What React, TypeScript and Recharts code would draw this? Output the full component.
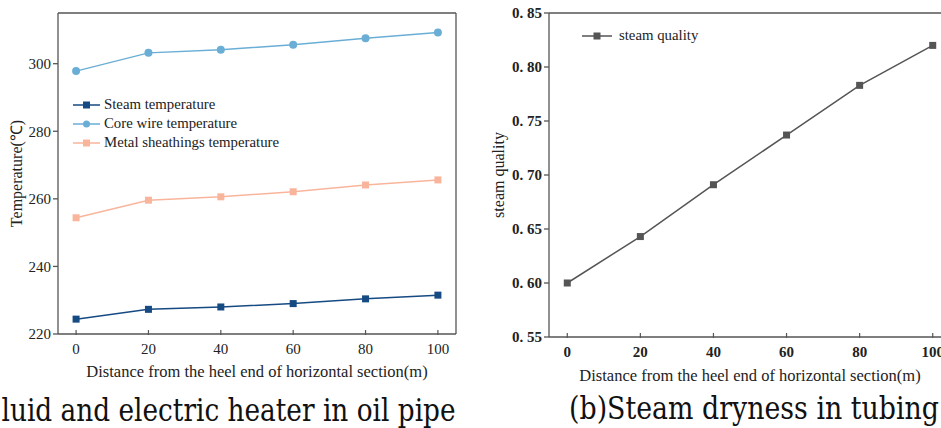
import React from 'react';
import { LineChart, Line, XAxis, YAxis, ReferenceLine, Legend } from 'recharts';

// distance along the horizontal section (m)
const distance = [0, 20, 40, 60, 80, 100];

// (a) temperatures, °C
const steamTemp = [224.4, 227.3, 228.0, 229.0, 230.4, 231.5];
const coreWireTemp = [297.8, 303.2, 304.1, 305.6, 307.5, 309.2];
const sheathTemp = [254.4, 259.6, 260.6, 262.1, 264.1, 265.6];
const tempTicks = [220, 240, 260, 280, 300];

// (b) steam quality
const steamQuality = [0.600, 0.643, 0.691, 0.737, 0.783, 0.820];
const qualityTicks = [0.55, 0.6, 0.65, 0.7, 0.75, 0.8, 0.85];

const xTicks = [0, 20, 40, 60, 80, 100];

const tempData = distance.map((d, i) => ({
  d,
  steam: steamTemp[i],
  core: coreWireTemp[i],
  sheath: sheathTemp[i],
}));
const qualityData = distance.map((d, i) => ({ d, q: steamQuality[i] }));

const SERIF = '"Liberation Serif", "Times New Roman", serif';
const AXIS = '#555';

const tempSeries = [
  { key: 'steam', name: 'Steam temperature', color: '#164a82', shape: 'square' },
  { key: 'core', name: 'Core wire temperature', color: '#6aaed6', shape: 'circle' },
  { key: 'sheath', name: 'Metal sheathings temperature', color: '#f9b59c', shape: 'square' },
];

const Marker = ({ cx, cy, color, shape, size }: any) =>
  shape === 'circle' ? (
    <circle cx={cx} cy={cy} r={size / 2} fill={color} />
  ) : (
    <rect x={cx - size / 2} y={cy - size / 2} width={size} height={size} fill={color} />
  );

const makeDot = (color: string, shape: string, size: number) => (p: any) =>
  <Marker key={p.index} cx={p.cx} cy={p.cy} color={color} shape={shape} size={size} />;

// x ticks point into the plot
const InwardTick = ({ x, y, payload, bold }: any) => (
  <g>
    <line x1={x} x2={x} y1={y - 7} y2={y - 12} stroke={AXIS} strokeWidth={1.2} />
    <text x={x} y={y + 12} textAnchor="middle" fontFamily={SERIF} fontSize={15}
      fontWeight={bold ? 600 : 400} fill="#222">{payload.value}</text>
  </g>
);

const xLabel = (text: string, dy: number) => (props: any) => {
  const { x, y, width } = props.viewBox;
  return (
    <text x={x + width / 2} y={y + dy} textAnchor="middle" fontFamily={SERIF} fontSize={16.5} fill="#222">
      {text}
    </text>
  );
};

const yLabel = (text: string, dx: number) => (props: any) => {
  const { x, y, height } = props.viewBox;
  const cx = x + dx;
  const cy = y + height / 2;
  return (
    <text x={cx} y={cy} transform={`rotate(-90 ${cx} ${cy})`} textAnchor="middle"
      dominantBaseline="middle" fontFamily={SERIF} fontSize={16} fill="#222">
      {text}
    </text>
  );
};

const TempLegend = () => (
  <div style={{ fontFamily: SERIF, fontSize: 14.8, color: '#222', whiteSpace: 'nowrap' }}>
    {tempSeries.map(s => (
      <div key={s.key} style={{ display: 'flex', alignItems: 'center', height: 19 }}>
        <svg width={30} height={12} style={{ marginRight: 2 }}>
          <line x1={1} x2={28} y1={6} y2={6} stroke={s.color} strokeWidth={1.5} />
          <Marker cx={14.5} cy={6} color={s.color} shape={s.shape} size={7} />
        </svg>
        <span>{s.name}</span>
      </div>
    ))}
  </div>
);

const QualityLegend = () => (
  <div style={{ display: 'flex', alignItems: 'center', fontFamily: SERIF, fontSize: 14.8, color: '#222', whiteSpace: 'nowrap' }}>
    <svg width={32} height={12} style={{ marginRight: 6 }}>
      <line x1={1} x2={31} y1={6} y2={6} stroke="#555" strokeWidth={1.5} />
      <Marker cx={16} cy={6} color="#555" shape="square" size={7} />
    </svg>
    <span>steam quality</span>
  </div>
);

const App: React.FC = () => {
  return (
    <div style={{ position: 'fixed', left: 0, top: 0, width: 941, height: 428, overflow: 'hidden', background: '#fff' }}>
      <div style={{ position: 'absolute', left: 0, top: 0 }}>
        <LineChart width={470} height={390} data={tempData} margin={{ top: 13, right: 14, left: 0, bottom: 0 }}>
          <XAxis dataKey="d" type="number" domain={[-5, 105]} ticks={xTicks} height={56}
            stroke={AXIS} strokeWidth={1.3} tickLine={false} tick={<InwardTick />}
            label={xLabel('Distance from the heel end of horizontal section(m)', 43)} />
          <YAxis type="number" domain={[220, 315]} ticks={tempTicks} width={58}
            stroke={AXIS} strokeWidth={1.3} tickSize={5}
            tick={{ fontFamily: SERIF, fontSize: 15, fill: '#222' }}
            label={yLabel('Temperature(℃)', 18)} />
          <ReferenceLine y={315} stroke={AXIS} strokeWidth={1.3} />
          <ReferenceLine x={105} stroke={AXIS} strokeWidth={1.3} />
          <Legend content={<TempLegend />} layout="horizontal" verticalAlign="middle" align="center"
            wrapperStyle={{ left: 72, top: 95, width: 'auto' }} />
          {tempSeries.map(s => (
            <Line key={s.key} dataKey={s.key} name={s.name} stroke={s.color} strokeWidth={1.5}
              dot={makeDot(s.color, s.shape, s.shape === 'circle' ? 8 : 7)} activeDot={false}
              isAnimationActive={false} />
          ))}
        </LineChart>
      </div>

      <div style={{ position: 'absolute', left: 470, top: 0 }}>
        <LineChart width={500} height={392} data={qualityData} margin={{ top: 13, right: 19, left: 0, bottom: 0 }}>
          <XAxis dataKey="d" type="number" domain={[-5, 105]} ticks={xTicks} height={55}
            stroke={AXIS} strokeWidth={1.3} tickLine={false} tick={<InwardTick bold />}
            label={xLabel('Distance from the heel end of horizontal section(m)', 43.5)} />
          <YAxis type="number" domain={[0.55, 0.85]} ticks={qualityTicks} width={79}
            stroke={AXIS} strokeWidth={1.3} tickSize={5}
            tickFormatter={(v: number) => v.toFixed(2).replace('.', '. ')}
            tick={{ fontFamily: SERIF, fontSize: 15, fontWeight: 600, fill: '#222' }}
            label={yLabel('steam quality', 30)} />
          <ReferenceLine y={0.85} stroke={AXIS} strokeWidth={1.3} />
          <Legend content={<QualityLegend />} layout="horizontal" verticalAlign="middle" align="center"
            wrapperStyle={{ left: 111, top: 27, width: 'auto' }} />
          <Line dataKey="q" name="steam quality" stroke="#555" strokeWidth={1.5}
            dot={makeDot('#555', 'square', 7)} activeDot={false} isAnimationActive={false} />
        </LineChart>
      </div>

      <svg style={{ position: 'absolute', left: 0, top: 0 }} width={941} height={428}>
        <text x={1.5} y={421} fontFamily='"DejaVu Serif", serif' fontSize={32} fill="#111"
          textLength={454} lengthAdjust="spacingAndGlyphs">luid and electric heater in oil pipe</text>
        <text x={569} y={418.5} fontFamily='"DejaVu Serif", serif' fontSize={32} fill="#111"
          textLength={370} lengthAdjust="spacingAndGlyphs">(b)Steam dryness in tubing</text>
      </svg>
    </div>
  );
};

export default App;
